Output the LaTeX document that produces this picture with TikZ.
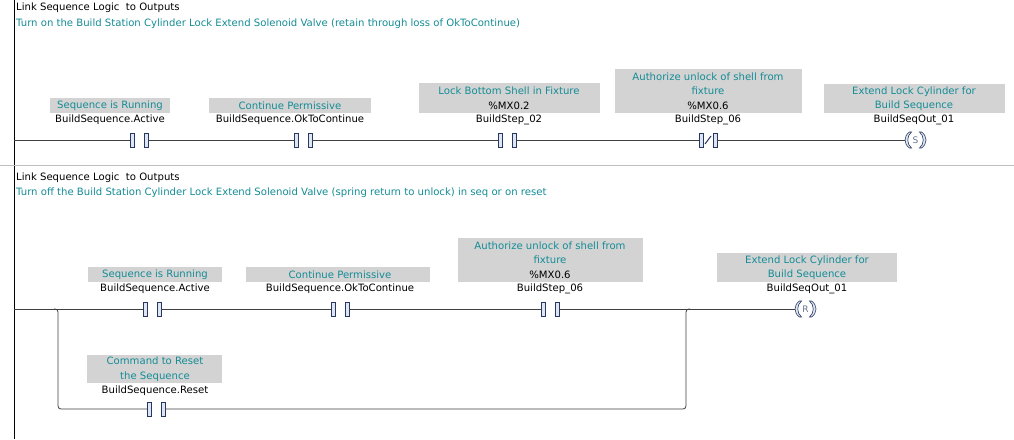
\documentclass[tikz,border=0pt]{standalone}
\usepackage{fontspec}
\setmainfont{DejaVu Sans}
\begin{document}
\definecolor{teal}{RGB}{20,140,150}
\definecolor{boxg}{RGB}{211,211,211}
\definecolor{cfill}{RGB}{221,230,242}
\definecolor{cdraw}{RGB}{40,55,95}
\begin{tikzpicture}[x=1pt,y=-1pt,
  txt/.style={font=\fontsize{10.1}{14.5}\selectfont,inner sep=0pt},
  cmt/.style={txt,text=teal,align=center},
  gbox/.style={fill=boxg,draw=none},
  wire/.style={draw=black!75,line width=0.8pt},
  rail/.style={draw=black,line width=0.8pt},
  bar/.style={fill=cfill,draw=cdraw,line width=0.6pt},
  coil/.style={cdraw,fill=cfill,line width=0.6pt}]
\useasboundingbox (0,0) rectangle (1014,439);
\fill[white] (0,0) rectangle (1014,439);
% rails
\draw[rail] (14,0) -- (14,165);
\draw[rail] (14,166) -- (14,439);
\draw[black!25] (0,165.5) -- (1014,165.5);
% headers
\node[txt,anchor=west] (t1) at (16,8) {Link Sequence Logic\ \ to Outputs};
\node[txt,anchor=west,text=teal] (c1) at (16,24) {Turn on the Build Station Cylinder Lock Extend Solenoid Valve (retain through loss of OkToContinue)};
\node[txt,anchor=west] (t2) at (16,178) {Link Sequence Logic\ \ to Outputs};
\node[txt,anchor=west,text=teal] (c2) at (16,193) {Turn off the Build Station Cylinder Lock Extend Solenoid Valve (spring return to unlock) in seq or on reset};
% contact macro
\newcommand{\ncontact}[3]{% name, x, y
  \coordinate (#1L) at (#2-9,#3); \coordinate (#1R) at (#2+9,#3);
  \draw[bar] (#2-9,#3-7) rectangle (#2-5,#3+7);
  \draw[bar] (#2+5,#3-7) rectangle (#2+9,#3+7);}
\newcommand{\ncoil}[3]{% x(center), y, letter
  \draw[coil] (#1-6,#2-8) .. controls (#1-12,#2-4) and (#1-12,#2+4) .. (#1-6,#2+8) -- (#1-4,#2+8) .. controls (#1-9,#2+4) and (#1-9,#2-4) .. (#1-4,#2-8) -- cycle;
  \draw[coil] (#1+6,#2-8) .. controls (#1+12,#2-4) and (#1+12,#2+4) .. (#1+6,#2+8) -- (#1+4,#2+8) .. controls (#1+9,#2+4) and (#1+9,#2-4) .. (#1+4,#2-8) -- cycle;
  \node[txt,text=cdraw!70,font=\fontsize{9}{10}\selectfont] at (#1,#2) {#3};}
% ---- rung 1
\fill[gbox] (50,98) rectangle (170,113);
\node[cmt] (a1) at (110,105.5) {Sequence is Running};
\node[txt] (v1) at (110,120) {BuildSequence.Active};
\fill[gbox] (209,98) rectangle (371,113);
\node[cmt] (a2) at (290,105.5) {Continue Permissive};
\node[txt] (v2) at (290,120) {BuildSequence.OkToContinue};
\fill[gbox] (419,83) rectangle (600,113);
\node[cmt] (a3) at (509,91) {Lock Bottom Shell in Fixture};
\node[txt] at (509,105.5) {\%MX0.2};
\node[txt] (v3) at (509,120) {BuildStep\_02};
\fill[gbox] (615,69) rectangle (802,113);
\node[cmt] (a4) at (708,83.5) {Authorize unlock of shell from\\fixture};
\node[txt] at (708,105.5) {\%MX0.6};
\node[txt] (v4) at (708,120) {BuildStep\_06};
\fill[gbox] (824,84) rectangle (1005,113);
\node[cmt] (a5) at (914,98.5) {Extend Lock Cylinder for\\Build Sequence};
\node[txt] (v5) at (914,120) {BuildSeqOut\_01};
\ncontact{k1}{139}{140}
\ncontact{k2}{303}{140}
\ncontact{k3}{507}{140}
\ncontact{k4}{708}{140}
\draw[cdraw,line width=1pt] (705,144) -- (711,136);
\coordinate (o1L) at (905,140);
\draw[wire] (14,140) -- (k1L) (k1R) -- (k2L) (k2R) -- (k3L) (k3R) -- (k4L) (k4R) -- (o1L);
\ncoil{915.5}{140}{S}
% ---- rung 2
\fill[gbox] (88,267) rectangle (222,282);
\node[cmt] at (155,274.5) {Sequence is Running};
\node[txt] at (155,289) {BuildSequence.Active};
\fill[gbox] (246,267) rectangle (430,282);
\node[cmt] at (340,274.5) {Continue Permissive};
\node[txt] at (340,289) {BuildSequence.OkToContinue};
\fill[gbox] (458,238) rectangle (643,282);
\node[cmt] at (550,252.5) {Authorize unlock of shell from\\fixture};
\node[txt] at (550,274.5) {\%MX0.6};
\node[txt] at (550,289) {BuildStep\_06};
\fill[gbox] (717,253) rectangle (897,282);
\node[cmt] at (807,267.5) {Extend Lock Cylinder for\\Build Sequence};
\node[txt] at (807,289) {BuildSeqOut\_01};
\fill[gbox] (87,355) rectangle (222,383);
\node[cmt] at (155,369) {Command to Reset\\the Sequence};
\node[txt] at (155,391) {BuildSequence.Reset};
\ncontact{m1}{152}{309}
\ncontact{m2}{340}{309}
\ncontact{m3}{550}{309}
\ncontact{m4}{156}{409}
\coordinate (o2L) at (795,309);
\draw[wire] (14,309) -- (m1L) (m1R) -- (m2L) (m2R) -- (m3L) (m3R) -- (o2L);
\draw[wire,rounded corners=3pt] (54,309) -| (58,409) -- (m4L);
\draw[wire,rounded corners=3pt] (m4R) -- (686,409) |- (690,309);
\ncoil{805.5}{309}{R}
\end{tikzpicture}
\end{document}
